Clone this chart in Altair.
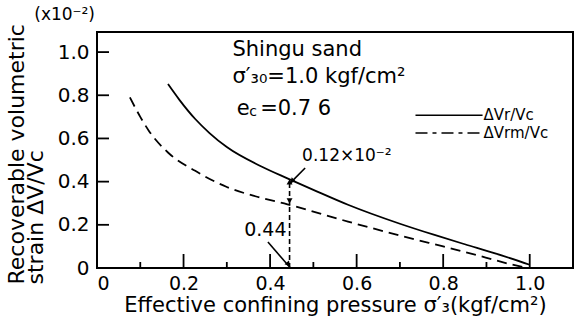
import altair as alt
import pandas as pd

FONT = "DejaVu Sans"

# Curves
solid_x = [0.164, 0.19, 0.227, 0.26, 0.30, 0.38, 0.44, 0.50, 0.58, 0.70, 0.78, 0.85, 0.92, 1.00]
solid_y = [0.852, 0.78, 0.69, 0.625, 0.56, 0.47, 0.415, 0.362, 0.293, 0.205, 0.153, 0.11, 0.068, 0.015]
dash_x = [0.076, 0.10, 0.12, 0.164, 0.227, 0.30, 0.37, 0.44, 0.58, 0.73, 0.80, 0.887, 0.95, 0.985]
dash_y = [0.79, 0.70, 0.635, 0.535, 0.45, 0.375, 0.33, 0.295, 0.215, 0.135, 0.10, 0.055, 0.02, 0.004]

x_major = [0.0, 0.2, 0.4, 0.6, 0.8, 1.0]
x_minor = [0.1, 0.3, 0.5, 0.7, 0.9]
y_major = [0.2, 0.4, 0.6, 0.8, 1.0]

# legend samples
leg_x = [0.736, 0.891]
leg_y = [0.708, 0.625]
leg_labels = ["ΔVr/Vc", "ΔVrm/Vc"]

# annotations
ann_left_x = [0.313, 0.313, 0.323, 0.352, 0.377, 0.474, -0.145]
ann_left_y = [1.01, 0.885, 0.738, 0.722, 0.738, 0.52, 1.17]
ann_left_t = ["Shingu sand", "σ′₃₀=1.0 kgf/cm²", "e", "c", "=0.7 6", "0.12×10⁻²", "(x10⁻²)"]
ann_left_s = [21, 21, 21, 14, 21, 17, 17]

x044_label = [0.389]
y044_label = [0.176]

arrow1_x = [0.395, 0.447]
arrow1_y = [0.12, 0.0]
arrow2_x = [0.481, 0.447]
arrow2_y = [0.463, 0.394]
vline_x = [0.445]
vline_y = [0.0]
vline_y2 = [0.41]
head_x = [0.445, 0.445, 0.441, 0.452]
head_y = [0.395, 0.315, 0.02, 0.405]
head_a = [0, 180, 140, 225]

W, H = 476, 236
xs = alt.Scale(domain=[0, 1.1], nice=False, zero=False)
ys = alt.Scale(domain=[0, 1.093], nice=False)

curves = pd.DataFrame({
    "x": solid_x + dash_x,
    "y": solid_y + dash_y,
    "s": ["solid"] * len(solid_x) + ["dash"] * len(dash_x),
})

xaxis = alt.Axis(values=x_major, tickSize=0, domain=False, grid=False,
                 labelExpr="datum.value == 0 ? '0' : format(datum.value, '.1f')",
                 labelFont=FONT, labelFontSize=19, labelColor="black", labelPadding=6,
                 title="Effective confining pressure σ′₃(kgf/cm²)", titleFont=FONT,
                 titleFontSize=21, titleFontWeight="normal", titleColor="black", titlePadding=1)
yaxis = alt.Axis(values=y_major + [0.0], tickSize=0, domain=False, grid=False,
                 labelExpr="datum.value == 0 ? '0' : format(datum.value, '.1f')",
                 labelFont=FONT, labelFontSize=20, labelColor="black", labelPadding=8,
                 title=["Recoverable volumetric", "strain  ΔV/Vc"], titleFont=FONT,
                 titleFontSize=22, titleFontWeight="normal", titleColor="black",
                 titleAngle=270, titleAlign="left", titleBaseline="top",
                 titleX=-91, titleY=252, titleLineHeight=19)

solid = alt.Chart(curves[curves.s == "solid"]).mark_line(color="black", strokeWidth=1.8, interpolate="monotone").encode(
    x=alt.X("x:Q", scale=xs, axis=xaxis), y=alt.Y("y:Q", scale=ys, axis=yaxis))
dash = alt.Chart(curves[curves.s == "dash"]).mark_line(color="black", strokeWidth=1.8, strokeDash=[10, 6],
                                                        interpolate="monotone").encode(
    x=alt.X("x:Q", scale=xs), y=alt.Y("y:Q", scale=ys))

xmaj = alt.Chart(pd.DataFrame({"t": x_major})).mark_rule(color="black", strokeWidth=1.8).encode(
    x=alt.X("t:Q", scale=xs), y=alt.value(H), y2=alt.value(H - 14))
xmin = alt.Chart(pd.DataFrame({"t": x_minor})).mark_rule(color="black", strokeWidth=1.8).encode(
    x=alt.X("t:Q", scale=xs), y=alt.value(H), y2=alt.value(H - 6))
ymaj = alt.Chart(pd.DataFrame({"t": y_major})).mark_rule(color="black", strokeWidth=1.8).encode(
    y=alt.Y("t:Q", scale=ys), x=alt.value(0), x2=alt.value(12))

leg_df = pd.DataFrame({"x": [leg_x[0]], "x2": [leg_x[1]], "y": [leg_y[0]]})
leg1 = alt.Chart(leg_df).mark_rule(color="black", strokeWidth=1.5).encode(
    x=alt.X("x:Q", scale=xs), x2="x2:Q", y=alt.Y("y:Q", scale=ys))
leg_df2 = pd.DataFrame({"x": [leg_x[0]], "x2": [leg_x[1]], "y": [leg_y[1]]})
leg2 = alt.Chart(leg_df2).mark_rule(color="black", strokeWidth=1.5, strokeDash=[12, 5, 4, 5]).encode(
    x=alt.X("x:Q", scale=xs), x2="x2:Q", y=alt.Y("y:Q", scale=ys))
leg_t = alt.Chart(pd.DataFrame({"x": [leg_x[1]] * 2, "y": leg_y, "t": leg_labels})).mark_text(
    align="left", baseline="middle", font=FONT, fontSize=15, dx=1, color="black").encode(
    x=alt.X("x:Q", scale=xs), y=alt.Y("y:Q", scale=ys), text="t:N")

ann = alt.Chart(pd.DataFrame({"x": ann_left_x, "y": ann_left_y, "t": ann_left_t, "s": ann_left_s})).mark_text(
    align="left", baseline="middle", font=FONT, color="black").encode(
    x=alt.X("x:Q", scale=xs), y=alt.Y("y:Q", scale=ys), text="t:N", size=alt.Size("s:Q", scale=None, legend=None))
ann044 = alt.Chart(pd.DataFrame({"x": x044_label, "y": y044_label, "t": ["0.44"]})).mark_text(
    align="center", baseline="middle", font=FONT, fontSize=19, color="black").encode(
    x=alt.X("x:Q", scale=xs), y=alt.Y("y:Q", scale=ys), text="t:N")

a1 = alt.Chart(pd.DataFrame({"x": arrow1_x, "y": arrow1_y})).mark_line(color="black", strokeWidth=1.6).encode(
    x=alt.X("x:Q", scale=xs), y=alt.Y("y:Q", scale=ys))
a2 = alt.Chart(pd.DataFrame({"x": arrow2_x, "y": arrow2_y})).mark_line(color="black", strokeWidth=1.6).encode(
    x=alt.X("x:Q", scale=xs), y=alt.Y("y:Q", scale=ys))
vl = alt.Chart(pd.DataFrame({"x": vline_x, "y": vline_y, "y2": vline_y2})).mark_rule(
    color="black", strokeWidth=1.6, strokeDash=[5, 3]).encode(
    x=alt.X("x:Q", scale=xs), y=alt.Y("y:Q", scale=ys), y2="y2:Q")
heads = alt.Chart(pd.DataFrame({"x": head_x, "y": head_y, "a": head_a})).mark_point(
    shape="triangle", filled=True, color="black", size=35, opacity=1).encode(
    x=alt.X("x:Q", scale=xs), y=alt.Y("y:Q", scale=ys), angle=alt.Angle("a:Q", scale=None))

chart = alt.layer(solid, dash, xmaj, xmin, ymaj, leg1, leg2, leg_t, ann, ann044, a1, a2, vl, heads).properties(
    width=W, height=H,
    autosize=alt.AutoSizeParams(type="none"),
    padding={"left": 97, "top": 32, "right": 9, "bottom": 55},
    background="white",
).configure_view(stroke="black", strokeWidth=2)

chart.save("out.html", embed_options={"renderer": "svg", "actions": False})
